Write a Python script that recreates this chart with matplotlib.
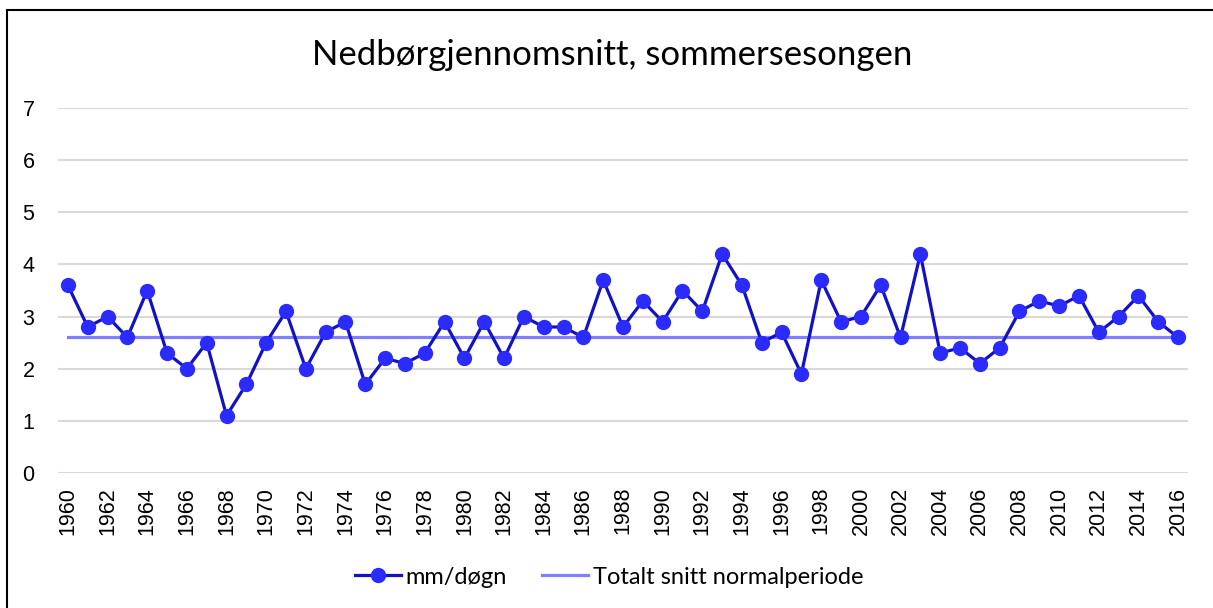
import matplotlib.pyplot as plt
from matplotlib.patches import Rectangle
import numpy as np

plt.rcParams['font.family'] = ['Lato', 'DejaVu Sans']

# data
years = list(range(1960, 2017))
mm_per_day = [3.6, 2.8, 3.0, 2.6, 3.5, 2.3, 2.0, 2.5, 1.1, 1.7,
              2.5, 3.1, 2.0, 2.7, 2.9, 1.7, 2.2, 2.1, 2.3, 2.9,
              2.2, 2.9, 2.2, 3.0, 2.8, 2.8, 2.6, 3.7, 2.8, 3.3,
              2.9, 3.5, 3.1, 4.2, 3.6, 2.5, 2.7, 1.9, 3.7, 2.9,
              3.0, 3.6, 2.6, 4.2, 2.3, 2.4, 2.1, 2.4, 3.1, 3.3,
              3.2, 3.4, 2.7, 3.0, 3.4, 2.9, 2.6]
normal_avg = [2.6] * len(years)
yticks = [0, 1, 2, 3, 4, 5, 6, 7]

fig = plt.figure(figsize=(12.13, 6.08), dpi=100)
ax = fig.add_axes([58 / 1213, 1 - 473 / 608, 1130 / 1213, 365 / 608])

for y in yticks:
    ax.axhline(y, color='#D9D9D9', lw=1.5, zorder=0)

ax.plot(years, mm_per_day, color='#1212C4', lw=2.3, marker='o', markersize=10,
        markerfacecolor='#2B2BFF', markeredgecolor='#2B2BFF', label='mm/døgn', zorder=3)
ax.plot(years, normal_avg, color='#7F7FFF', lw=2.3, label='Totalt snitt normalperiode', zorder=2)

ax.set_xlim(1959.5, 2016.5)
ax.set_ylim(0, 7)
ax.set_yticks(yticks)
ax.set_xticks(years[::2])
ax.set_xticklabels([str(y) for y in years[::2]], rotation=90, family='Liberation Sans', fontsize=15.5)
ax.set_yticklabels([str(y) for y in yticks], family='Liberation Sans', fontsize=15.5)
ax.tick_params(axis='both', length=0)
ax.tick_params(axis='y', pad=17)
ax.tick_params(axis='x', pad=10)
for s in ax.spines.values():
    s.set_visible(False)

fig.text(0.505, 1 - 55 / 608, 'Nedbørgjennomsnitt, sommersesongen', ha='center', va='center',
         fontsize=25)

fig.legend(loc='center', bbox_to_anchor=(0.502, 1 - 577 / 608), ncol=2, frameon=False,
           fontsize=17, handlelength=1.95, columnspacing=1.5, handletextpad=0.2)

fig.patches.append(Rectangle((7 / 1213, -0.01), 1.02, 1 - 10 / 608 + 0.01, transform=fig.transFigure,
                             fill=False, edgecolor='black', lw=1.5))

fig.savefig('out.png', dpi=100)
